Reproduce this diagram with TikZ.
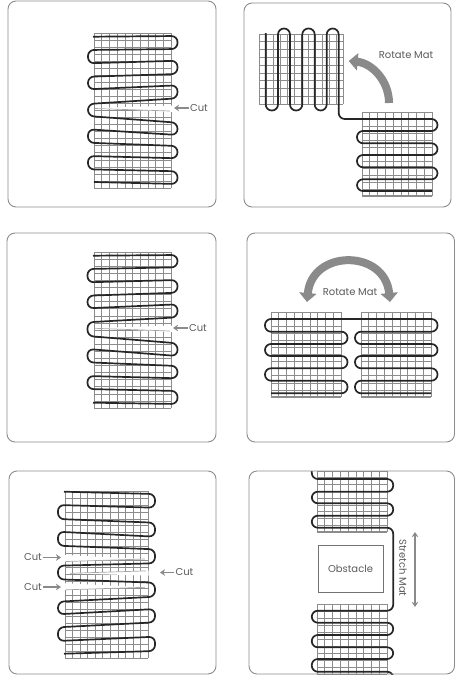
\documentclass[tikz,border=0pt]{standalone}
\usepackage{fontspec}
\setmainfont{Poppins}
\usetikzlibrary{positioning,arrows.meta}
\definecolor{meshgray}{HTML}{8C8C8C}
\definecolor{arrgray}{HTML}{8A8A8A}
\definecolor{txtgray}{HTML}{5A5A5A}
\newcommand{\matgrid}[6]{%
  \foreach \i in {0,...,#5} \draw[gridln] ({#1+\i*#3/#5},#2) -- ++(0,#4);
  \foreach \j in {0,...,#6} \draw[gridln] (#1,{#2+\j*#4/#6}) -- ++(#3,0);
}
\begin{document}
\begin{tikzpicture}[
      x=1pt, y=-1pt,
      panel/.style  = {draw=black!45, line width=0.9pt, rounded corners=8pt},
      gridln/.style = {draw=meshgray, line width=0.6pt},
      hemln/.style  = {draw=meshgray, line width=1.3pt},
      cable/.style  = {draw=black!85, line width=1.7pt, rounded corners=6pt},
      wedge/.style  = {fill=white, draw=none},
      cutln/.style  = {draw=black!35, line width=0.7pt},
      cutarr/.style = {-{Stealth[length=5pt,width=6.5pt]}, draw=arrgray, line width=1.5pt},
      bigarr/.style = {draw=arrgray, line width=8pt},
      lbl/.style    = {font=\fontsize{10}{12}\selectfont, text=txtgray, inner sep=1pt},
    ]
    \useasboundingbox (0,0) rectangle (455,675);
    %% ------------------------------------------------ panel 1 (one cut)
    \draw[panel] (8,1) rectangle (216,207);
    \matgrid{94}{33}{77}{155}{10}{22}
    \fill[wedge] (95,108) -- (172.5,105.5) -- (172.5,112) -- cycle;
    \draw[cutln] (95,108.5) -- (170,111);
    \draw[cable] (93,36.7) -- (177.5,36) -- (177.5,49) -- (88,50) -- (88,63.3)
      -- (177.5,60.7) -- (177.5,74) -- (88,76.7) -- (88,89.3)
      -- (177.5,85.3) -- (177.5,98.3) -- (88,104) -- (88,116)
      -- (177.5,122.7) -- (177.5,135) -- (88,129.3) -- (88,142.7)
      -- (177.5,146) -- (177.5,158.3) -- (88,156) -- (88,169.3)
      -- (177.5,171.3) -- (177.5,184) -- (94,182);
    \node[lbl] (cutA) at (199,108) {Cut};
    \coordinate (cutAtip) at (174,108);
    \draw[cutarr] (cutA) -- (cutAtip);

    %% ------------------------------------------------ panel 2 (rotate mat)
    \draw[panel] (244,3) rectangle (451,207);
    \matgrid{259}{34}{84}{70}{12}{9}
    \matgrid{362}{112}{70}{84}{9}{12}
    \draw[hemln] (362,196) -- (432,196);
    \draw[cable] (265.7,33) -- (265.7,110.5) -- (278,110.5) -- (278,28.5) -- (290,28.5)
      -- (290,110.5) -- (302.3,110.5) -- (302.3,28.5) -- (314.7,28.5)
      -- (314.7,110.5) -- (326.7,110.5) -- (326.7,28.5) -- (338.7,28.5)
      -- (338.7,119) -- (437.5,119) -- (437.5,131) -- (357,131) -- (357,143.3)
      -- (437.5,143.3) -- (437.5,155) -- (357,155) -- (357,167.3)
      -- (437.5,167.3) -- (437.5,179.3) -- (357,179.3) -- (357,191) -- (432,191);
    \coordinate (rotAs) at (389,103);
    \coordinate (rotAe) at (348.7,61);
    \draw[bigarr,-{Triangle[length=9pt,width=17pt]}] (rotAs) to[out=90,in=-5] (rotAe);
    \node[lbl] (rotA) at (406,55) {Rotate Mat};

    %% ------------------------------------------------ panel 3 (one cut)
    \draw[panel] (7,233) rectangle (216,442);
    \matgrid{94}{252}{77}{156}{10}{22}
    \fill[wedge] (95,328) -- (172.5,325.5) -- (172.5,332) -- cycle;
    \draw[cutln] (95,328.3) -- (170,331);
    \draw[cable] (93,255.7) -- (177.5,255) -- (177.5,267.3) -- (87.5,269) -- (87.5,282.3)
      -- (177.5,280) -- (177.5,292.7) -- (87.5,295.7) -- (87.5,308.3)
      -- (177.5,304.3) -- (177.5,317.3) -- (87.5,322.3) -- (87.5,336)
      -- (177.5,343.3) -- (177.5,356) -- (87.5,349) -- (87.5,362.3)
      -- (177.5,366) -- (177.5,378.3) -- (87.5,376) -- (87.5,389)
      -- (177.5,391) -- (177.5,404) -- (93,402.7);
    \node[lbl] (cutB) at (198,328) {Cut};
    \coordinate (cutBtip) at (173,328);
    \draw[cutarr] (cutB) -- (cutBtip);

    %% ------------------------------------------------ panel 4 (rotate mat, two halves)
    \draw[panel] (247,233) rectangle (454.5,442);
    \matgrid{271}{312}{70}{85}{9}{12}
    \matgrid{361}{312}{70}{85}{9}{12}
    \draw[hemln] (271,396.5) -- (341,396.5);
    \draw[hemln] (361,396.5) -- (431,396.5);
    \draw[cable] (431,393.3) -- (355,393.3) -- (355,380.7) -- (437.5,380.7) -- (437.5,368.3)
      -- (355,368.3) -- (355,356) -- (437.5,356) -- (437.5,344)
      -- (355,344) -- (355,331.7) -- (437.5,331.7) -- (437.5,319)
      -- (265,319) -- (265,331.7) -- (347.5,331.7) -- (347.5,344)
      -- (265,344) -- (265,356) -- (347.5,356) -- (347.5,368.3)
      -- (265,368.3) -- (265,380.7) -- (347.5,380.7) -- (347.5,393.3) -- (271,393.3);
    \coordinate (rotBl) at (307,302);
    \coordinate (rotBr) at (390,302);
    \draw[bigarr,{Triangle[length=9pt,width=17pt]}-{Triangle[length=9pt,width=17pt]}]
      (rotBl) .. controls (312,249) and (385,249) .. (rotBr);
    \node[lbl] (rotB) at (350,292) {Rotate Mat};

    %% ------------------------------------------------ panel 5 (three cuts)
    \draw[panel] (9,471) rectangle (216,674);
    \matgrid{65}{491}{83}{167}{11}{24}
    \fill[wedge] (64.5,555) -- (145,559) -- (64.5,561.7) -- cycle;
    \fill[wedge] (148.5,570.7) -- (70,573.3) -- (148.5,575.7) -- cycle;
    \fill[wedge] (64.5,583.3) -- (145,587.3) -- (64.5,590) -- cycle;
    \draw[cutln] (66,561.5) -- (145,559);
    \draw[cutln] (70,573.3) -- (146,570.9);
    \draw[cutln] (66,589.8) -- (145,587.3);
    \draw[cable] (64,491.7) -- (155,494) -- (155,507.7) -- (58,505) -- (58,519)
      -- (155,522.7) -- (155,536.7) -- (58,531.7) -- (58,545.7)
      -- (155,549.3) -- (155,563.3) -- (58,565.7) -- (58,579.3)
      -- (155,582.7) -- (155,596.7) -- (58,601.7) -- (58,614.3)
      -- (155,609) -- (155,622.3) -- (58,627.3) -- (58,641)
      -- (155,636.7) -- (155,651) -- (64,653.7);
    \node[lbl] (cutC) at (33,557.5) {Cut};
    \coordinate (cutCtip) at (61,557.5);
    \draw[cutarr] (cutC) -- (cutCtip);
    \node[lbl] (cutD) at (33,587) {Cut};
    \coordinate (cutDtip) at (61,587);
    \draw[cutarr] (cutD) -- (cutDtip);
    \node[lbl] (cutE) at (184.5,572.5) {Cut};
    \coordinate (cutEtip) at (160,572.5);
    \draw[cutarr] (cutE) -- (cutEtip);

    %% ------------------------------------------------ panel 6 (stretch mat)
    \matgrid{317}{471}{70}{61}{9}{9}
    \matgrid{317}{604}{70}{70}{9}{10}
    \draw[hemln] (317,531.5) -- (387,531.5);
    \begin{scope}
      \clip (249,471) rectangle (455,675);
      \draw[cable] (311.8,470) -- (311.8,479) -- (393.2,479) -- (393.2,491.7)
        -- (311.8,491.7) -- (311.8,503.3) -- (393.2,503.3) -- (393.2,515.7)
        -- (311.8,515.7) -- (311.8,527.7) -- (393.2,527.7) -- (393.2,610.7)
        -- (311.8,610.7) -- (311.8,622.7) -- (393.2,622.7) -- (393.2,635)
        -- (311.8,635) -- (311.8,647.3) -- (393.2,647.3) -- (393.2,659)
        -- (311.8,659) -- (311.8,671.7) -- (393.2,671.7) -- (393.2,680);
    \end{scope}
    \draw[panel] (249,471) rectangle (454.5,674);
    \node[draw=black!55, line width=0.8pt, minimum width=65pt, minimum height=47pt,
          inner sep=0pt, lbl] (obstacle) at (350.5,568.5) {Obstacle};
    \node[lbl, rotate=-90] (stretch) at (403,568) {Stretch Mat};
    \coordinate (strU) at (415,532);
    \coordinate (strD) at (415,607);
    \draw[{Stealth[length=5pt,width=6.5pt]}-{Stealth[length=5pt,width=6.5pt]}, draw=arrgray,
          line width=1.5pt] (strU) -- (strD);
  \end{tikzpicture}
\end{document}
